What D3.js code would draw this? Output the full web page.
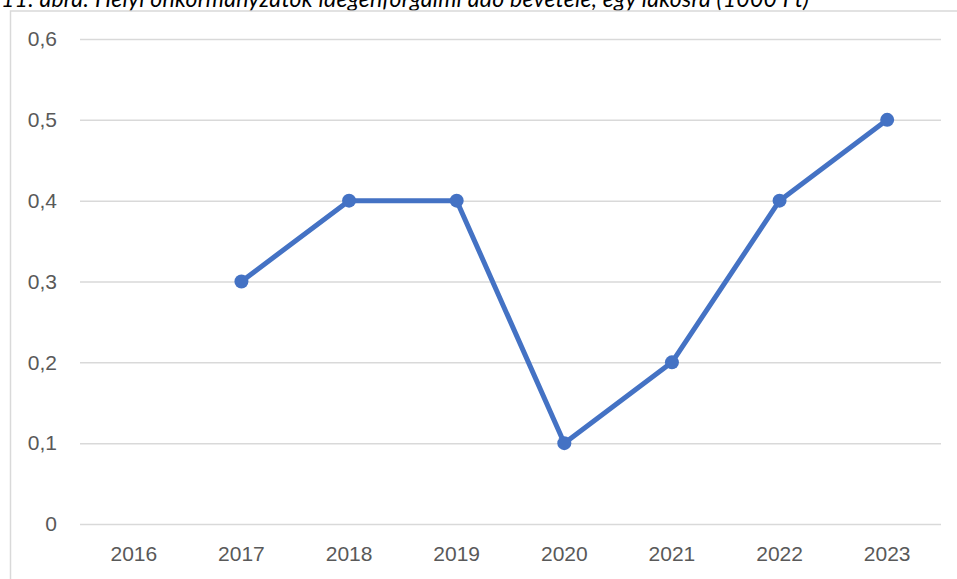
<!DOCTYPE html>
<html>
<head>
<meta charset="utf-8">
<script src="https://cdn.jsdelivr.net/npm/d3@7"></script>
<style>
  body { margin: 0; background: #fff; }
  svg { display: block; font-family: Lato, "Open Sans", sans-serif; }
  .tick text { fill: #595959; font-size: 21px; }
</style>
</head>
<body>
<div id="chart"></div>
<script>
var years = ["2016", "2017", "2018", "2019", "2020", "2021", "2022", "2023"];
var values = [null, 0.3, 0.4, 0.4, 0.1, 0.2, 0.4, 0.5];
var yTicks = [0, 0.1, 0.2, 0.3, 0.4, 0.5, 0.6];
var title = "11. ábra: Helyi önkormányzatok idegenforgalmi adó bevétele, egy lakosra (1000 Ft)";

var width = 957, height = 579;
var margin = { left: 80, right: 16, top: 39, bottom: 55 };

var svg = d3.select("#chart").append("svg")
    .attr("width", width)
    .attr("height", height);

// title, cut at the top edge like the source
svg.append("text")
    .attr("x", 1)
    .attr("y", 7)
    .attr("font-size", 23)
    .attr("font-style", "italic")
    .attr("fill", "#000")
    .attr("textLength", 808)
    .attr("lengthAdjust", "spacing")
    .text(title);

// chart frame
svg.append("path")
    .attr("d", "M10.5," + height + "V11H" + width)
    .attr("fill", "none")
    .attr("stroke", "#d9d9d9")
    .attr("stroke-width", 1.5);

var x = d3.scaleBand().domain(years).range([margin.left, width - margin.right]);
var y = d3.scaleLinear().domain([0, 0.6]).range([height - margin.bottom, margin.top]);

var fmt = function (d) { return String(d).replace(".", ","); };

// y gridlines + labels
var yAxis = svg.append("g")
    .attr("transform", "translate(" + margin.left + ",0)")
    .call(d3.axisLeft(y).tickValues(yTicks).tickFormat(fmt)
        .tickSize(-(width - margin.left - margin.right)).tickPadding(23));
yAxis.select(".domain").remove();
yAxis.selectAll(".tick line").attr("stroke", "#d9d9d9").attr("stroke-width", 1.5);

// x labels
var xAxis = svg.append("g")
    .attr("transform", "translate(0," + (height - margin.bottom) + ")")
    .call(d3.axisBottom(x).tickSize(0).tickPadding(22));
xAxis.select(".domain").remove();

var pts = years.map(function (d, i) { return { year: d, value: values[i] }; })
    .filter(function (d) { return d.value != null; });

var line = d3.line()
    .x(function (d) { return x(d.year) + x.bandwidth() / 2; })
    .y(function (d) { return y(d.value); });

svg.append("path")
    .datum(pts)
    .attr("d", line)
    .attr("fill", "none")
    .attr("stroke", "#4472c4")
    .attr("stroke-width", 5)
    .attr("stroke-linejoin", "round");

svg.selectAll("circle.pt")
    .data(pts)
    .enter().append("circle")
    .attr("class", "pt")
    .attr("cx", function (d) { return x(d.year) + x.bandwidth() / 2; })
    .attr("cy", function (d) { return y(d.value); })
    .attr("r", 7)
    .attr("fill", "#4472c4");
</script>
</body>
</html>
